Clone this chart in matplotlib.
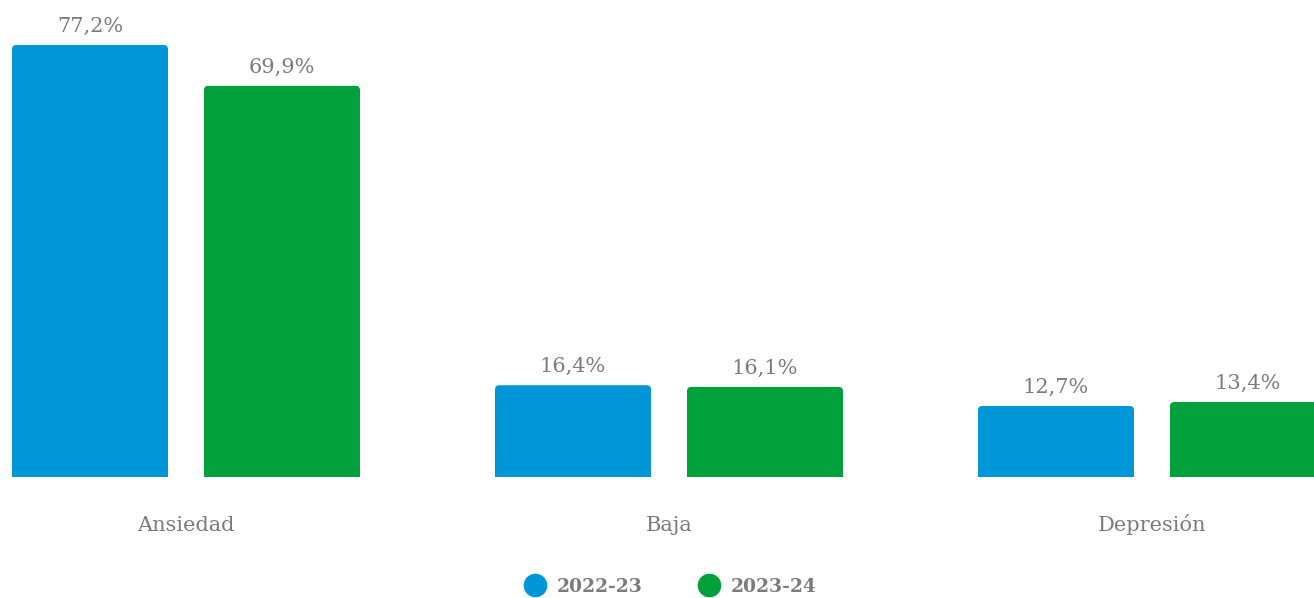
import matplotlib
matplotlib.use('Agg')
import matplotlib.pyplot as plt
import numpy as np
from matplotlib.patches import FancyBboxPatch, Rectangle
from matplotlib.lines import Line2D

categories = ['Ansiedad', 'Baja', 'Depresión']
series_names = ['2022-23', '2023-24']
values_2022 = [77.2, 16.4, 12.7]
values_2023 = [69.9, 16.1, 13.4]
colors = ['#0096D8', '#00A03A']

text_gray = '#7b7b7b'
serif = ['DejaVu Serif']


def fmt(v):
    return f'{v:.1f}'.replace('.', ',') + '%'


def main():
    fig = plt.figure(figsize=(13.14, 5.98), dpi=100)
    ax = fig.add_axes([0, 0, 1, 1])
    # one category step is ~483 px, baseline sits at y=477 px
    ax.set_xlim(-186 / 483, 1128 / 483)
    ax.set_ylim(-21.62, 85.24)
    ax.axis('off')

    x = np.arange(len(categories))
    width = 156 / 483
    offset = 96 / 483

    # clip to above the baseline so rounded corners only show on top
    clip = Rectangle((-1, 0), 5, 200, transform=ax.transData)

    radius = 0.009
    aspect = (1 / 5.596) / (1 / 483.0)
    for vals, off, col in zip([values_2022, values_2023], [-offset, offset], colors):
        bars = ax.bar(x + off, vals, width=width, color=col)
        for rect, v in zip(bars, vals):
            rect.set_visible(False)
            patch = FancyBboxPatch((rect.get_x(), -3), rect.get_width(), v + 3,
                                   boxstyle=f'round,pad=0,rounding_size={radius}',
                                   mutation_aspect=aspect,
                                   facecolor=col, edgecolor='none')
            ax.add_patch(patch)
            patch.set_clip_path(clip)
            ax.annotate(fmt(v), (rect.get_x() + rect.get_width() / 2, v),
                        xytext=(0, 9.5), textcoords='offset points',
                        ha='center', va='baseline', fontsize=15,
                        color=text_gray, family=serif)

    for xi, cat in zip(x, categories):
        ax.text(xi, -9.65, cat, ha='center', va='baseline', fontsize=15,
                color=text_gray, family=serif)

    handles = [Line2D([], [], linestyle='none', marker='o', markersize=17,
                      markerfacecolor=c, markeredgecolor='none') for c in colors]
    leg = fig.legend(handles, series_names, loc='center',
                     bbox_to_anchor=(0.5095, 1 - 587 / 598), ncol=2,
                     frameon=False, handlelength=1.3, handletextpad=0.5,
                     columnspacing=2.9,
                     prop={'family': serif, 'weight': 'bold', 'size': 13.5})
    for t in leg.get_texts():
        t.set_color(text_gray)

    fig.savefig('out.png', dpi=100)


if __name__ == '__main__':
    main()
